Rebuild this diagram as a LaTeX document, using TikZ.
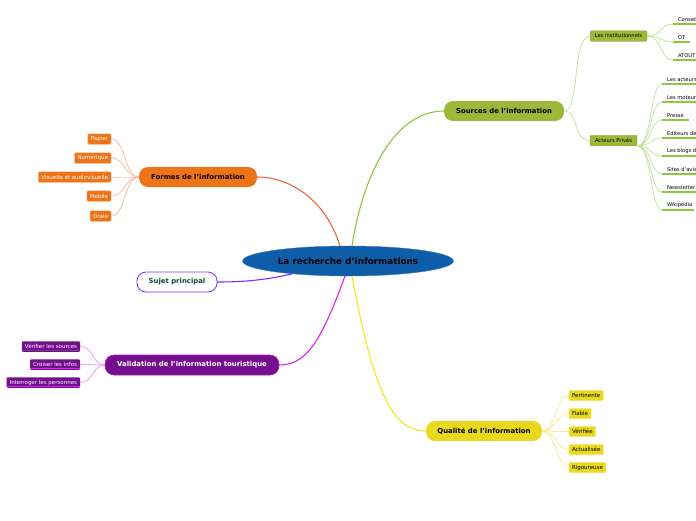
\documentclass[tikz,border=0pt]{standalone}
\usepackage{fontspec}
\setmainfont{DejaVu Sans}
\usetikzlibrary{shapes.geometric}
\definecolor{cblue}{HTML}{0E5DA8}
\definecolor{cgreen}{HTML}{9CB83A}
\definecolor{cgreenline}{HTML}{8DC63F}
\definecolor{cgreenpale}{HTML}{C8E3A6}
\definecolor{corange}{HTML}{EE7418}
\definecolor{corangeline}{HTML}{F0643C}
\definecolor{corangepale}{HTML}{F6BBA5}
\definecolor{cpurple}{HTML}{730F8C}
\definecolor{cmagenta}{HTML}{E020F0}
\definecolor{cmagentapale}{HTML}{F29AF2}
\definecolor{cyellow}{HTML}{E8D91E}
\definecolor{cyellowline}{HTML}{F5E624}
\definecolor{cyellowpale}{HTML}{F5EC90}
\definecolor{cviolet}{HTML}{7B2EFF}
\definecolor{cdkgreen}{HTML}{0A4D3C}
\begin{document}
\begin{tikzpicture}[x=1pt,y=-1pt,
  every node/.style={inner sep=0pt, outer sep=0pt},
  mainbox/.style={rounded corners=9pt, minimum height=20pt, font=\bfseries\fontsize{6.9}{8}\selectfont},
  leafbox/.style={rounded corners=1pt, minimum height=10.5pt, inner xsep=3pt, font=\fontsize{5.5}{6}\selectfont},
  gleafbox/.style={leafbox, font=\fontsize{5.2}{6}\selectfont},
  leaftext/.style={anchor=south west, inner xsep=5pt, inner ysep=2.5pt, font=\fontsize{5.2}{6}\selectfont, align=left},
  bigconn/.style={line width=1.1pt},
  smallconn/.style={line width=0.8pt},
  gunder/.style={draw=cgreenline, line width=1.4pt},
]
\clip (0,0) rectangle (696,520);
\fill[white] (0,0) rectangle (696,520);

% central
\node[ellipse, fill=cblue, draw=cblue!80!white, minimum width=211pt, minimum height=30pt,
      font=\bfseries\fontsize{8.8}{10}\selectfont] (c) at (348,261) {La recherche d'informations};

% main branches
\node[mainbox, fill=cgreen, minimum width=120pt] (src) at (504,111) {Sources de l'information};
\node[mainbox, fill=corange, minimum width=118pt] (frm) at (198,177) {Formes de l'information};
\node[mainbox, fill=white, draw=cviolet, line width=0.8pt, minimum width=80pt, text=cdkgreen] (suj) at (177,282) {Sujet principal};
\node[mainbox, fill=cpurple, draw=cmagenta!60!cpurple, line width=0.6pt, minimum width=174pt, text=white] (val) at (192,365) {Validation de l'information touristique};
\node[mainbox, fill=cyellow, minimum width=116pt] (qua) at (484,431) {Qualité de l'information};

% main connectors
\draw[bigconn, cgreenline] ([xshift=4pt]c.north) .. controls (362,180) and (392,111) .. (src.west);
\draw[bigconn, corangeline] ([xshift=-8pt]c.north) .. controls (326,200) and (290,177) .. (frm.east);
\draw[bigconn, cviolet] (c.193) .. controls (265,280) and (245,282) .. (suj.east);
\draw[bigconn, cmagenta] ([xshift=-3pt]c.south) .. controls (320,345) and (305,365) .. (val.east);
\draw[bigconn, cyellowline] ([xshift=4pt]c.south) .. controls (375,400) and (395,431) .. (qua.west);

% Sources sub-branches
\node[gleafbox, fill=cgreen, draw=cgreen!85!black, line width=0.3pt, minimum width=57pt] (ins) at (618.5,36) {Les institutionnels};
\node[gleafbox, fill=cgreen, draw=cgreen!85!black, line width=0.3pt, minimum width=47pt] (ap) at (613.5,140.5) {Acteurs Privés};
\draw[smallconn, cgreenpale] (src.east) .. controls (580,111) and (572,36) .. (ins.west);
\draw[smallconn, cgreenpale] (src.east) .. controls (580,111) and (572,140.5) .. (ap.west);

% Les institutionnels children
\foreach \n/\t/\y/\l in {i1/Conseil/24/30, i2/OT/42/17, i3/ATOUT/60/30}{
  \node[leaftext] (\n) at (673,\y) {\t};
  \draw[gunder] (\n.south west) -- ++(\l,0);
  \draw[smallconn, cgreenpale] (ins.east) .. controls (662,36) and (660,\y) .. (\n.south west);
}

% Acteurs Prives children
\foreach \n/\t/\y/\l in {p1/Les acteurs/84/40, p2/Les moteurs/102/40, p3/Presse/120/27, p4/Editeurs de/138/40,
  p5/Les blogs d/156/40, p6/Sites d'avis/174/40, p7/Newsletter/192/40, p8/Wikipedia/210/32}{
  \node[leaftext] (\n) at (662,\y) {\t};
  \draw[gunder] (\n.south west) -- ++(\l,0);
  \draw[smallconn, cgreenpale] (ap.south east) .. controls (652,146) and (650,\y) .. (\n.south west);
}

% Formes children
\foreach \n/\t/\y in {f1/Papier/139, f2/Numérique/158, f3/Visuelle et audiovisuelle/177, f4/Mobile/196, f5/Orale/216}{
  \node[leafbox, fill=corange, draw=corange!60!white, line width=0.4pt, text=white, anchor=east] (\n) at (111,\y) {\t};
  \draw[smallconn, corangepale] (frm.west) .. controls (124,177) and (126,\y) .. (\n.east);
}

% Validation children
\foreach \n/\t/\y/\s in {v1/Vérifier les sources/346.5/cpurple!60!gray, v2/Croiser les infos/364.5/cmagenta, v3/Interroger les personnes/382.5/cmagenta}{
  \node[leafbox, fill=cpurple, text=white, anchor=east] (\n) at (80,\y) {\t};
  \draw[\s, line width=1pt] ([yshift=0.8pt]\n.south west) -- ([yshift=0.8pt]\n.south east);
  \draw[smallconn, cmagentapale] (val.west) .. controls (92,365) and (94,\y) .. (\n.east);
}

% Qualite children
\foreach \n/\t/\y in {q1/Pertinente/395.5, q2/Fiable/413.5, q3/Vérifiée/431.5, q4/Actualisée/449.5, q5/Rigoureuse/467.5}{
  \node[leafbox, fill=cyellow, draw=cyellowpale, line width=0.6pt, anchor=west] (\n) at (569,\y) {\t};
  \draw[smallconn, cyellowpale] (qua.east) .. controls (556,431) and (556,\y) .. (\n.west);
}
\end{tikzpicture}
\end{document}
